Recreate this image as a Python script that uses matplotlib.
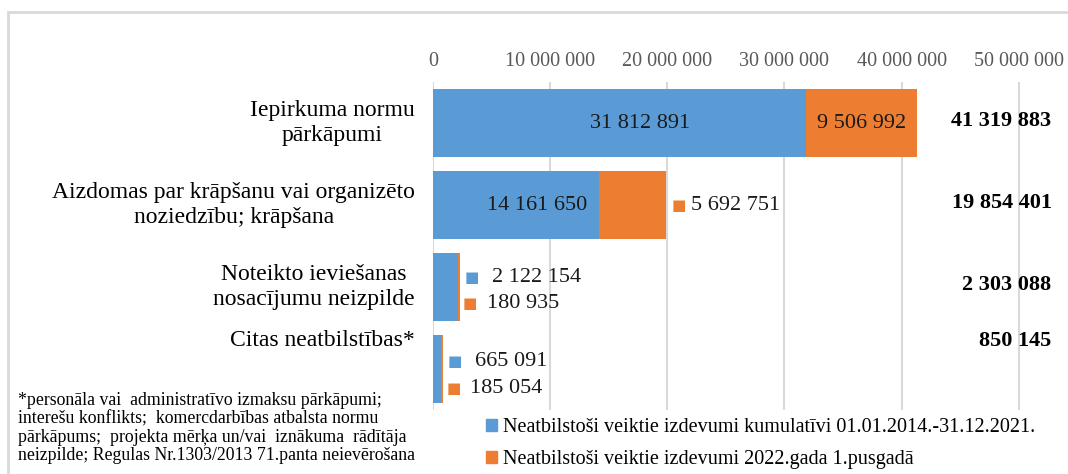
import matplotlib
matplotlib.use("Agg")
import matplotlib.pyplot as plt
import matplotlib.transforms as mtransforms
from matplotlib.patches import Patch, Rectangle

# data
categories = ["Iepirkuma normu\npārkāpumi",
              "Aizdomas par krāpšanu vai organizēto\nnoziedzību; krāpšana",
              "Noteikto ieviešanas\nnosacījumu neizpilde",
              "Citas neatbilstības*"]
cumulative = [31812891, 14161650, 2122154, 665091]
half_2022 = [9506992, 5692751, 180935, 185054]
totals = [41319883, 19854401, 2303088, 850145]
series_names = ["Neatbilstoši veiktie izdevumi kumulatīvi 01.01.2014.-31.12.2021.",
                "Neatbilstoši veiktie izdevumi 2022.gada 1.pusgadā"]
xticks = [0, 10000000, 20000000, 30000000, 40000000, 50000000]
footnote = ("*personāla vai  administratīvo izmaksu pārkāpumi;\n"
            "interešu konflikts;  komercdarbības atbalsta normu\n"
            "pārkāpums;  projekta mērķa un/vai  iznākuma  rādītāja\n"
            "neizpilde; Regulas Nr.1303/2013 71.panta neievērošana")

BLUE = "#5B9BD5"
ORANGE = "#ED7D31"
SERIF = ["Liberation Serif", "DejaVu Serif"]
plt.rcParams["font.family"] = SERIF

def fmt(v):
    return f"{v:,}".replace(",", " ")

W, H = 1068, 474
fig = plt.figure(figsize=(W / 100, H / 100), dpi=100)
fig.patches.append(Rectangle((8 / W, -0.1), 1.2, 1 - 12 / H + 0.1, transform=fig.transFigure,
                             fill=False, edgecolor="#d9d9d9", linewidth=2))

ax = fig.add_axes([433 / W, 1 - 410 / H, (W - 433) / W, 328 / H])
y = list(range(len(categories)))
ax.barh(y, cumulative, height=0.83, color=BLUE, zorder=2)
ax.barh(y, half_2022, left=cumulative, height=0.83, color=ORANGE, zorder=2)
ax.set_xlim(0, 54.2e6)
ax.set_ylim(3.5, -0.5)
ax.set_xticks(xticks)
ax.set_xticklabels([fmt(t) for t in xticks])
ax.xaxis.tick_top()
ax.tick_params(axis="x", length=0, pad=8, labelsize=14.5, labelcolor="#595959")
ax.set_yticks([])
ax.grid(axis="x", color="#d9d9d9", linewidth=1.5, zorder=0)
for s in ax.spines.values():
    s.set_visible(False)

# category labels
lab_tr = mtransforms.blended_transform_factory(ax.transAxes, ax.transData)
lab_y = [0, 1, 2, 2.65]
for yy, c in zip(lab_y, categories):
    ax.text(-18 / (W - 433), yy, c, transform=lab_tr, ha="right", va="center",
            multialignment="center", fontsize=17, linespacing=1.3)

# labels inside the two big bars
for i in range(2):
    ax.annotate(fmt(cumulative[i]), (cumulative[i] / 2, i), xytext=(15, 0),
                textcoords="offset points", ha="center", va="center", fontsize=16, color="#1a1a1a")
ax.text(cumulative[0] + half_2022[0] / 2, 0, fmt(half_2022[0]), ha="center", va="center",
        fontsize=16, color="#1a1a1a")

# labels with legend keys beside small bars
def key_label(x, yy, val, color, dx_sq, dx_txt):
    ax.annotate("■", (x, yy), xytext=(dx_sq, 0), textcoords="offset pixels", ha="center",
                va="center", fontsize=11, color=color, family="DejaVu Sans", annotation_clip=False)
    ax.annotate(fmt(val), (x, yy), xytext=(dx_txt, 0), textcoords="offset pixels", ha="left",
                va="center", fontsize=16, color="#1a1a1a", annotation_clip=False)

ends = [a + b for a, b in zip(cumulative, half_2022)]
key_label(ends[1], 1, half_2022[1], ORANGE, 13, 25)
key_label(ends[2], 1.89, cumulative[2], BLUE, 12, 32)
key_label(ends[2], 2.2, half_2022[2], ORANGE, 10, 27)
key_label(ends[3], 2.91, cumulative[3], BLUE, 12, 32)
key_label(ends[3], 3.24, half_2022[3], ORANGE, 11, 27)

# totals
for i, t in enumerate(totals):
    ax.text(52.8e6, i - 0.02 if i < 3 else 2.66, fmt(t), ha="right", va="center",
            fontsize=16, fontweight="bold")

# footnote
fig.text(18 / W, 1 - 428 / H, footnote, ha="left", va="center", fontsize=12.8, linespacing=1.12)

# legend
handles = [Patch(color=BLUE), Patch(color=ORANGE)]
fig.legend(handles, series_names, loc="upper left", bbox_to_anchor=(478 / W, 1 - 410 / H),
           frameon=False, fontsize=14.5, handlelength=0.55, handleheight=0.55, handletextpad=0.3,
           labelspacing=0.65, borderaxespad=0)

fig.savefig("out.png", dpi=100)
